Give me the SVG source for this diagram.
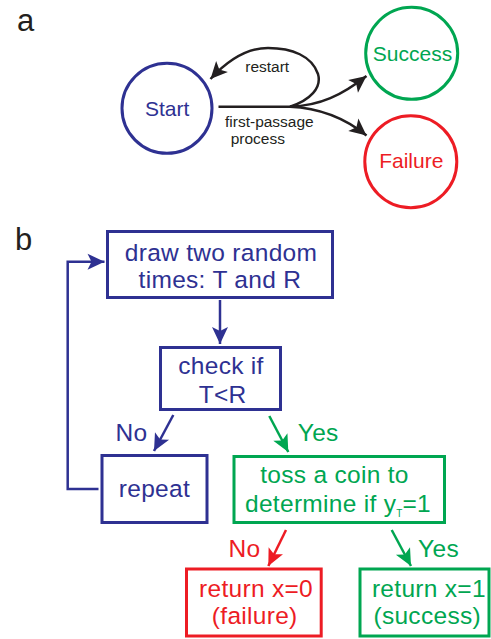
<svg xmlns="http://www.w3.org/2000/svg" width="491" height="639" viewBox="0 0 491 639">
<defs>
<marker id="ak" markerUnits="userSpaceOnUse" markerWidth="20" markerHeight="20" viewBox="-18 -10 20 20" refX="0" refY="0" orient="auto"><path d="M0,0 L-17,-8 L-13,0 L-17,8 Z" fill="#231f20"/></marker>
<marker id="ab" markerUnits="userSpaceOnUse" markerWidth="20" markerHeight="20" viewBox="-18 -10 20 20" refX="0" refY="0" orient="auto"><path d="M0,0 L-17,-8 L-13,0 L-17,8 Z" fill="#2e3192"/></marker>
<marker id="ag" markerUnits="userSpaceOnUse" markerWidth="20" markerHeight="20" viewBox="-18 -10 20 20" refX="0" refY="0" orient="auto"><path d="M0,0 L-17,-8 L-13,0 L-17,8 Z" fill="#00a651"/></marker>
<marker id="ar" markerUnits="userSpaceOnUse" markerWidth="20" markerHeight="20" viewBox="-18 -10 20 20" refX="0" refY="0" orient="auto"><path d="M0,0 L-17,-8 L-13,0 L-17,8 Z" fill="#ed1c24"/></marker>
</defs>
<style>
text{font-family:"Liberation Sans",Arial,sans-serif}
.lbl{font-size:31px;fill:#231f20}
.cn{font-size:21px;text-anchor:middle}
.sm{font-size:15.5px;fill:#231f20}
.bt{font-size:24.5px;letter-spacing:0.3px;text-anchor:middle}
.circ{fill:none;stroke-width:3}
.box{fill:#fff;stroke-width:3}
.blue{fill:#2e3192}.green{fill:#00a651}.red{fill:#ed1c24}
.sb{stroke:#2e3192}.sg{stroke:#00a651}.sr{stroke:#ed1c24}
.con{fill:none;stroke-width:2.5}
</style>
<text class="lbl" x="17" y="30.5">a</text>
<text class="lbl" x="15" y="250">b</text>

<g id="connectors">
<path class="con" stroke="#231f20" d="M218.5,106.7 L290,106.7"/>
<path class="con" stroke="#231f20" marker-end="url(#ak)" d="M290,106.7 C310,100 322,88 318,74 C312,56 292,48 268,48 C246,48 228,60 210.5,79"/>
<path class="con" stroke="#231f20" marker-end="url(#ak)" d="M290,106.7 C320,106 342,95 366.5,76"/>
<path class="con" stroke="#231f20" marker-end="url(#ak)" d="M290,106.7 C320,108 345,118 366.5,135.5"/>
<path class="con sb" marker-end="url(#ab)" d="M98.5,489 L67.7,489 L67.7,261.7 L104.5,261.7"/>
<path class="con sb" marker-end="url(#ab)" d="M220,300 L220,344"/>
<path class="con sb" marker-end="url(#ab)" d="M173.3,415 L154,451"/>
<path class="con sg" marker-end="url(#ag)" d="M269.3,416 L288.3,452"/>
<path class="con sr" marker-end="url(#ar)" d="M286,530 L268.3,566"/>
<path class="con sg" marker-end="url(#ag)" d="M391.7,530 L411,566"/>
</g>
<g id="edge-labels">
<text class="sm" x="267.2" y="71.7" text-anchor="middle">restart</text>
<text class="sm" x="225" y="126.7">first-passage</text>
<text class="sm" x="230.7" y="144">process</text>
<text class="bt blue" x="131.5" y="440.7">No</text>
<text class="bt green" x="318.2" y="440.7">Yes</text>
<text class="bt red" x="244.5" y="556.7">No</text>
<text class="bt green" x="438.5" y="556.7">Yes</text>
</g>

<g id="start"><circle class="circ sb" cx="167" cy="108.3" r="45"/><text class="cn blue" x="167.2" y="115.7">Start</text></g>
<g id="success"><circle class="circ sg" cx="411.7" cy="53.3" r="46"/><text class="cn green" x="412.5" y="60.7">Success</text></g>
<g id="failure"><circle class="circ sr" cx="410.8" cy="161.7" r="46"/><text class="cn red" x="411.3" y="167.8">Failure</text></g>

<g id="draw"><rect class="box sb" x="107.5" y="231.5" width="225" height="66"/>
<text class="bt blue" x="221" y="260.7">draw two random</text>
<text class="bt blue" x="219.9" y="288.3">times: T and R</text></g>
<g id="check"><rect class="box sb" x="160.5" y="347.5" width="120" height="62"/>
<text class="bt blue" x="221" y="374.3">check if</text>
<text class="bt blue" x="222.7" y="402.7">T&lt;R</text></g>
<g id="repeat"><rect class="box sb" x="102" y="455.5" width="105" height="67"/>
<text class="bt blue" x="154.4" y="497.3">repeat</text></g>
<g id="toss"><rect class="box sg" x="234" y="456.5" width="210.5" height="66"/>
<text class="bt green" x="334.5" y="483.3">toss a coin to</text>
<text class="bt green" x="245" y="511.7" style="text-anchor:start">determine if y<tspan font-size="10" dy="5.6" letter-spacing="0">T</tspan><tspan dy="-5.6">=1</tspan></text></g>
<g id="fail-return"><rect class="box sr" x="186.5" y="569" width="134.7" height="67"/>
<text class="bt red" x="256" y="597.3">return x=0</text>
<text class="bt red" x="254.7" y="624">(failure)</text></g>
<g id="success-return"><rect class="box sg" x="360" y="569" width="129" height="67"/>
<text class="bt green" x="428.9" y="597.3">return x=1</text>
<text class="bt green" x="427.2" y="624">(success)</text></g>
</svg>
